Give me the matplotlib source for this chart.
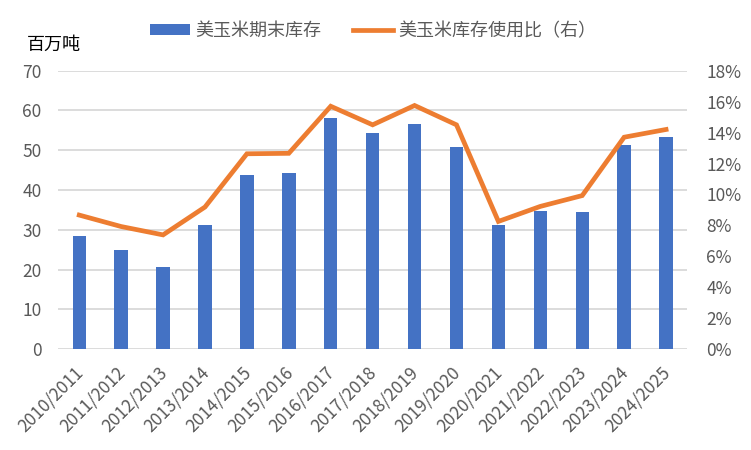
import matplotlib
matplotlib.use("Agg")
import matplotlib.pyplot as plt
from matplotlib.ticker import MultipleLocator, FuncFormatter
from matplotlib.transforms import ScaledTranslation
import numpy as np

plt.rcParams['font.family'] = ['Noto Sans CJK SC', 'DejaVu Sans']

seasons = ["2010/2011", "2011/2012", "2012/2013", "2013/2014", "2014/2015",
           "2015/2016", "2016/2017", "2017/2018", "2018/2019", "2019/2020",
           "2020/2021", "2021/2022", "2022/2023", "2023/2024", "2024/2025"]
ending_stocks = [28.5, 25.0, 20.7, 31.3, 43.9, 44.2, 58.2, 54.4, 56.7, 50.9,
                 31.3, 34.8, 34.6, 51.4, 53.4]
stocks_to_use = [8.67, 7.93, 7.39, 9.19, 12.63, 12.66, 15.70, 14.50, 15.75, 14.50,
                 8.26, 9.23, 9.93, 13.70, 14.20]

bar_label = "美玉米期末库存"
line_label = "美玉米库存使用比（右）"
y_label = "百万吨"

BLUE = "#4472C4"
ORANGE = "#ED7D31"
GRID = "#D9D9D9"
TXT = "#595959"

fig = plt.figure(figsize=(7.51, 4.5), dpi=100)
ax = fig.add_axes([0.0776, 0.2238, 0.9148 - 0.0776, 0.843 - 0.2238])
ax2 = ax.twinx()

x = np.arange(len(seasons))
bars = ax.bar(x, ending_stocks, width=0.32, color=BLUE, zorder=2, label=bar_label)
line, = ax2.plot(x, stocks_to_use, color=ORANGE, lw=3.4, zorder=3,
                 solid_joinstyle='miter', label=line_label)

ax.set_xlim(-0.5, len(seasons) - 0.5)
ax.set_ylim(0, 70)
ax2.set_ylim(0, 18)
ax.yaxis.set_major_locator(MultipleLocator(10))
ax2.yaxis.set_major_locator(MultipleLocator(2))
ax2.yaxis.set_major_formatter(FuncFormatter(lambda v, p: f"{v:.0f}%"))

ax.grid(axis='y', color=GRID, lw=1.3, zorder=0)
ax.set_axisbelow(True)
for a in (ax, ax2):
    for s in a.spines.values():
        s.set_visible(False)
ax2.set_zorder(ax.get_zorder() + 1)
ax2.patch.set_visible(False)

ax.tick_params(axis='y', length=0, pad=12, labelsize=12.5, labelcolor=TXT)
ax2.tick_params(axis='y', length=0, pad=14, labelsize=12.5, labelcolor=TXT)
ax.tick_params(axis='x', length=0, pad=4, labelsize=12.5, labelcolor=TXT)
ax.set_xticks(x)
ax.set_xticklabels(seasons, rotation=45, ha='right', rotation_mode='anchor')
shift = ScaledTranslation(-0.05, -0.085, fig.dpi_scale_trans)
for lbl in ax.get_xticklabels():
    lbl.set_transform(lbl.get_transform() + shift)

fig.text(27 / 751, 1 - 45 / 450, y_label, fontsize=13, color='black',
         ha='left', va='center')

fig.legend(handles=[bars, line], labels=[bar_label, line_label],
           loc='center', bbox_to_anchor=(0.497, 1 - 31 / 450), ncol=2,
           frameon=False, fontsize=13, labelcolor=TXT,
           handlelength=2.2, handleheight=0.6, handletextpad=0.3,
           columnspacing=1.8)

fig.savefig("out.png", dpi=100)
